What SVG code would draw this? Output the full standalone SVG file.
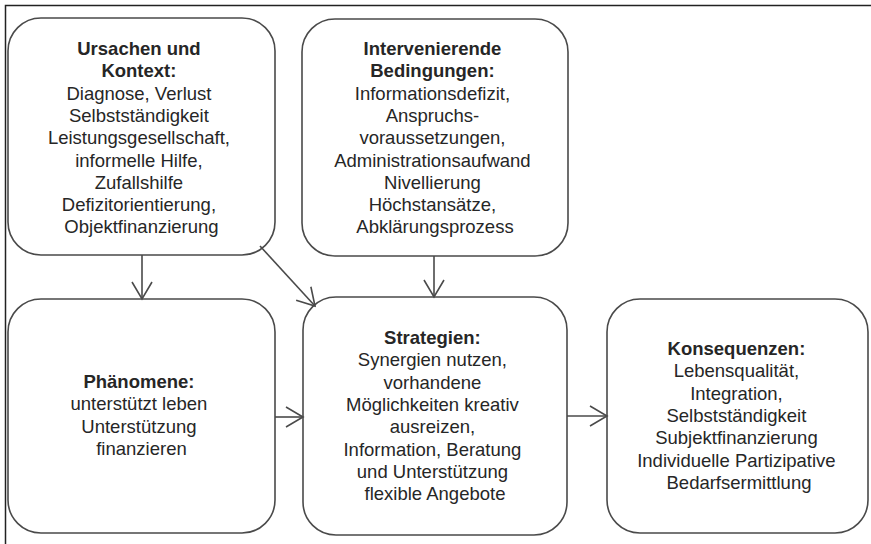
<svg xmlns="http://www.w3.org/2000/svg" width="871" height="544" viewBox="0 0 871 544">
  <style>
    .box { fill: #ffffff; stroke: #4a4a4a; stroke-width: 1.6; }
    .lbl { font-family: "Liberation Sans", Arial, sans-serif; font-size: 18.5px; fill: #262626; text-anchor: middle; }
    .ttl { font-weight: bold; }
    .edge { fill: none; stroke: #4a4a4a; stroke-width: 1.6; }
  </style>
  <defs>
    <marker id="vhead" markerUnits="userSpaceOnUse" markerWidth="22" markerHeight="24" refX="18" refY="11" orient="auto" overflow="visible">
      <path d="M1,1 L18,11 L1,21" fill="none" stroke="#4a4a4a" stroke-width="1.6"/>
    </marker>
  </defs>

  <rect width="871" height="544" fill="#ffffff"/>
  <!-- outer frame -->
  <rect x="5.5" y="5.5" width="900" height="600" fill="none" stroke="#222" stroke-width="1.5"/>

  <g id="ursachen">
    <rect class="box" x="8" y="18" width="267" height="237" rx="33"/>
    <text class="lbl" x="141.5" y="55">
      <tspan class="ttl" x="141.5">Ursachen und</tspan>
      <tspan class="ttl" x="141.5" dy="22.3">Kontext:</tspan>
      <tspan x="141.5" dy="22.3">Diagnose, Verlust</tspan>
      <tspan x="141.5" dy="22.3">Selbstständigkeit</tspan>
      <tspan x="141.5" dy="22.3">Leistungsgesellschaft,</tspan>
      <tspan x="141.5" dy="22.3">informelle Hilfe,</tspan>
      <tspan x="141.5" dy="22.3">Zufallshilfe</tspan>
      <tspan x="141.5" dy="22.3">Defizitorientierung,</tspan>
      <tspan x="141.5" dy="22.3">Objektfinanzierung</tspan>
    </text>
  </g>

  <g id="intervenierende">
    <rect class="box" x="302" y="19" width="266" height="237" rx="33"/>
    <text class="lbl" x="435" y="55">
      <tspan class="ttl" x="435">Intervenierende</tspan>
      <tspan class="ttl" x="435" dy="22.3">Bedingungen:</tspan>
      <tspan x="435" dy="22.3">Informationsdefizit,</tspan>
      <tspan x="435" dy="22.3">Anspruchs-</tspan>
      <tspan x="435" dy="22.3">voraussetzungen,</tspan>
      <tspan x="435" dy="22.3">Administrationsaufwand</tspan>
      <tspan x="435" dy="22.3">Nivellierung</tspan>
      <tspan x="435" dy="22.3">Höchstansätze,</tspan>
      <tspan x="435" dy="22.3">Abklärungsprozess</tspan>
    </text>
  </g>

  <g id="phaenomene">
    <rect class="box" x="8" y="299" width="267" height="234" rx="33"/>
    <text class="lbl" x="141.5" y="388">
      <tspan class="ttl" x="141.5">Phänomene:</tspan>
      <tspan x="141.5" dy="22.3">unterstützt leben</tspan>
      <tspan x="141.5" dy="22.3">Unterstützung</tspan>
      <tspan x="141.5" dy="22.3">finanzieren</tspan>
    </text>
  </g>

  <g id="strategien">
    <rect class="box" x="303" y="297" width="264" height="238" rx="33"/>
    <text class="lbl" x="435" y="344">
      <tspan class="ttl" x="435">Strategien:</tspan>
      <tspan x="435" dy="22.3">Synergien nutzen,</tspan>
      <tspan x="435" dy="22.3">vorhandene</tspan>
      <tspan x="435" dy="22.3">Möglichkeiten kreativ</tspan>
      <tspan x="435" dy="22.3">ausreizen,</tspan>
      <tspan x="435" dy="22.3">Information, Beratung</tspan>
      <tspan x="435" dy="22.3">und Unterstützung</tspan>
      <tspan x="435" dy="22.3">flexible Angebote</tspan>
    </text>
  </g>

  <g id="konsequenzen">
    <rect class="box" x="607" y="299" width="261" height="234" rx="33"/>
    <text class="lbl" x="739" y="355">
      <tspan class="ttl" x="739">Konsequenzen:</tspan>
      <tspan x="739" dy="22.3">Lebensqualität,</tspan>
      <tspan x="739" dy="22.3">Integration,</tspan>
      <tspan x="739" dy="22.3">Selbstständigkeit</tspan>
      <tspan x="739" dy="22.3">Subjektfinanzierung</tspan>
      <tspan x="739" dy="22.3">Individuelle Partizipative</tspan>
      <tspan x="739" dy="22.3">Bedarfsermittlung</tspan>
    </text>
  </g>

  <g id="connectors">
    <line class="edge" x1="142" y1="255" x2="142" y2="299" marker-end="url(#vhead)"/>
    <line class="edge" x1="260" y1="246" x2="315" y2="306" marker-end="url(#vhead)"/>
    <line class="edge" x1="434" y1="256" x2="434" y2="297" marker-end="url(#vhead)"/>
    <line class="edge" x1="275" y1="417" x2="303" y2="417" marker-end="url(#vhead)"/>
    <line class="edge" x1="567" y1="416" x2="607" y2="416" marker-end="url(#vhead)"/>
  </g>
</svg>
